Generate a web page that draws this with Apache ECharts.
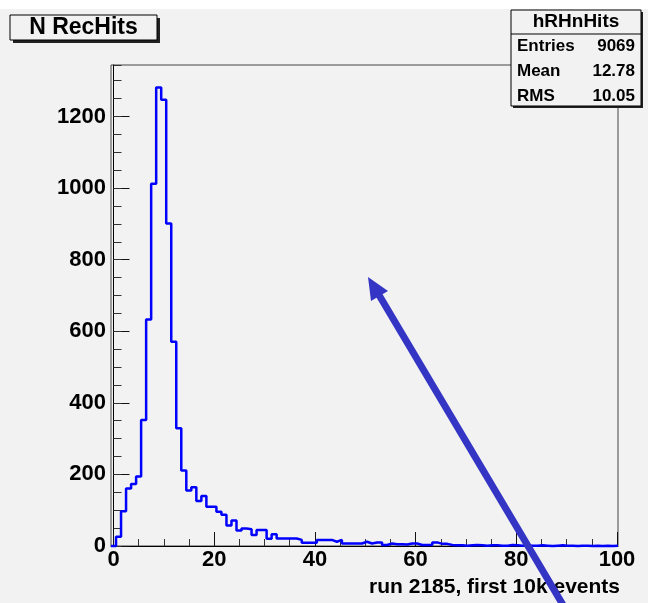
<!DOCTYPE html>
<html>
<head>
<meta charset="utf-8">
<script src="https://cdn.jsdelivr.net/npm/echarts@6/dist/echarts.min.js"></script>
<style>
html, body { margin: 0; padding: 0; background: #fff; }
#main { width: 648px; height: 603px; }
</style>
</head>
<body>
<div id="main"></div>
<script>
// hRHnHits: 101 bins from -0.5 to 100.5
var binLow = -0.5;
var binWidth = 1;
var counts = [
  0, 26, 97, 161, 173, 194, 352, 633, 1012, 1281,
  1247, 901, 571, 329, 211, 155, 164, 126, 140, 110,
  110, 96, 87, 57, 71, 43, 49, 47, 31, 45,
  45, 20, 33, 21, 21, 21, 21, 17, 9, 9,
  9, 17, 17, 17, 12, 17, 7, 7, 7, 7,
  12, 7, 10, 10, 3, 7, 5, 5, 4, 7,
  7, 3, 3, 3, 10, 6, 6, 3, 2, 2,
  1, 2, 3, 2, 1, 2, 2, 1, 1, 3,
  2, 1, 2, 1, 1, 2, 1, 0, 1, 2,
  1, 1, 0, 1, 1, 0, 1, 0, 1, 0,
  1
];
var xMin = 0, xMax = 100, xStep = 20;
var yMax = 1344, yStep = 200, yMinorStep = 50;
var histTitle = 'N RecHits';
var statsHeader = 'hRHnHits';
var statsNames = ['Entries', 'Mean', 'RMS'];
var statsValues = ['9069', '12.78', '10.05'];
var xTitle = 'run 2185, first 10k events';

var FONT = '"Liberation Sans", Arial, sans-serif';
var BG = '#f2f2f2';

// outline of the histogram, one horizontal step per bin
var steps = [[binLow, 0]];
counts.forEach(function (c, i) { steps.push([binLow + i * binWidth, c]); });
var xEnd = binLow + counts.length * binWidth;
steps.push([xEnd, counts[counts.length - 1]]);
steps.push([xEnd, 0]);

var frame = { left: 111, top: 65, width: 507, height: 481 };
var tickFrame = { left: 113.5, top: 65, width: 503.5, height: 481 };

var myChart = echarts.init(document.getElementById('main'));
var arrowColor = '#3535c5';

var statsGraphics = [];
statsNames.forEach(function (n, i) {
  statsGraphics.push({
    type: 'text', z: 101,
    style: { x: 517, y: 46 + i * 25, text: n, font: 'bold 17px ' + FONT, fill: '#000', verticalAlign: 'middle' }
  });
  statsGraphics.push({
    type: 'text', z: 101,
    style: { x: 635, y: 46 + i * 25, text: statsValues[i], font: 'bold 17px ' + FONT, fill: '#000', align: 'right', verticalAlign: 'middle' }
  });
});

var option = {
  backgroundColor: BG,
  animation: false,
  grid: [
    Object.assign({ show: true, borderColor: '#444', borderWidth: 1, backgroundColor: 'transparent' }, frame),
    tickFrame,
    frame
  ],
  xAxis: [{
    gridIndex: 0, type: 'value', min: binLow, max: xEnd,
    axisLine: { show: true, onZero: false, lineStyle: { color: '#000', width: 1 } },
    axisTick: { show: false }, axisLabel: { show: false }, splitLine: { show: false }
  }, {
    gridIndex: 1, type: 'value', min: xMin, max: xMax, interval: xStep,
    axisLine: { show: false },
    axisTick: { inside: true, length: 14, lineStyle: { color: '#111' } },
    minorTick: { show: true, splitNumber: 4, length: 7, lineStyle: { color: '#333' } },
    axisLabel: { margin: 3, color: '#000', fontFamily: FONT, fontWeight: 'bold', fontSize: 22, formatter: function (v) { return String(v); } },
    splitLine: { show: false }
  }, {
    gridIndex: 2, type: 'value', min: binLow, max: xEnd, show: false
  }],
  yAxis: [{
    gridIndex: 0, type: 'value', min: 0, max: yMax, interval: yStep,
    axisLine: { show: true, lineStyle: { color: '#000', width: 1 } },
    axisTick: { inside: true, length: 16, lineStyle: { color: '#111' } },
    axisLabel: { margin: 5, showMaxLabel: false, color: '#000', fontFamily: FONT, fontWeight: 'bold', fontSize: 22, formatter: function (v) { return String(v); } },
    splitLine: { show: false }
  }, {
    gridIndex: 1, type: 'value', min: 0, max: yMax, show: false
  }, {
    gridIndex: 2, type: 'value', min: 0, max: yMax, interval: yMinorStep,
    axisLine: { show: false },
    axisTick: { inside: true, length: 8, lineStyle: { color: '#333' } },
    axisLabel: { show: false }, splitLine: { show: false }
  }],
  series: [{
    type: 'line',
    xAxisIndex: 0, yAxisIndex: 0,
    step: 'end',
    data: steps,
    symbol: 'none',
    clip: false,
    lineStyle: { color: '#0000ff', width: 2.5 }
  }],
  graphic: [
    { type: 'rect', z: 50, shape: { x: 0, y: 0, width: 648, height: 9 }, style: { fill: '#fff' } },
    // title box
    { type: 'rect', z: 100, shape: { x: 13, y: 18, width: 147, height: 25 }, style: { fill: '#222' } },
    { type: 'rect', z: 100, shape: { x: 10, y: 15, width: 147, height: 25 }, style: { fill: BG, stroke: '#000', lineWidth: 1 } },
    { type: 'text', z: 101, style: { x: 83.5, y: 28, text: histTitle, font: 'bold 23px ' + FONT, fill: '#000', align: 'center', verticalAlign: 'middle' } },
    // stats box
    { type: 'rect', z: 100, shape: { x: 513, y: 12, width: 130, height: 96 }, style: { fill: '#222' } },
    { type: 'rect', z: 100, shape: { x: 511, y: 10, width: 130, height: 96 }, style: { fill: BG, stroke: '#000', lineWidth: 1 } },
    { type: 'line', z: 101, shape: { x1: 511, y1: 34, x2: 641, y2: 34 }, style: { stroke: '#000', lineWidth: 1 } },
    { type: 'text', z: 101, style: { x: 576, y: 22, text: statsHeader, font: 'bold 19px ' + FONT, fill: '#000', align: 'center', verticalAlign: 'middle' } }
  ].concat(statsGraphics).concat([
    // x axis title
    { type: 'text', z: 60, style: { x: 620, y: 587, text: xTitle, font: 'bold 21px ' + FONT, fill: '#000', align: 'right', verticalAlign: 'middle' } },
    // arrow annotation
    { type: 'line', z: 200, shape: { x1: 379, y1: 295, x2: 566, y2: 610 }, style: { stroke: arrowColor, lineWidth: 7 } },
    { type: 'polygon', z: 200, shape: { points: [[368, 277], [388, 291], [371, 301]] }, style: { fill: arrowColor } }
  ])
};
myChart.setOption(option);
</script>
</body>
</html>
